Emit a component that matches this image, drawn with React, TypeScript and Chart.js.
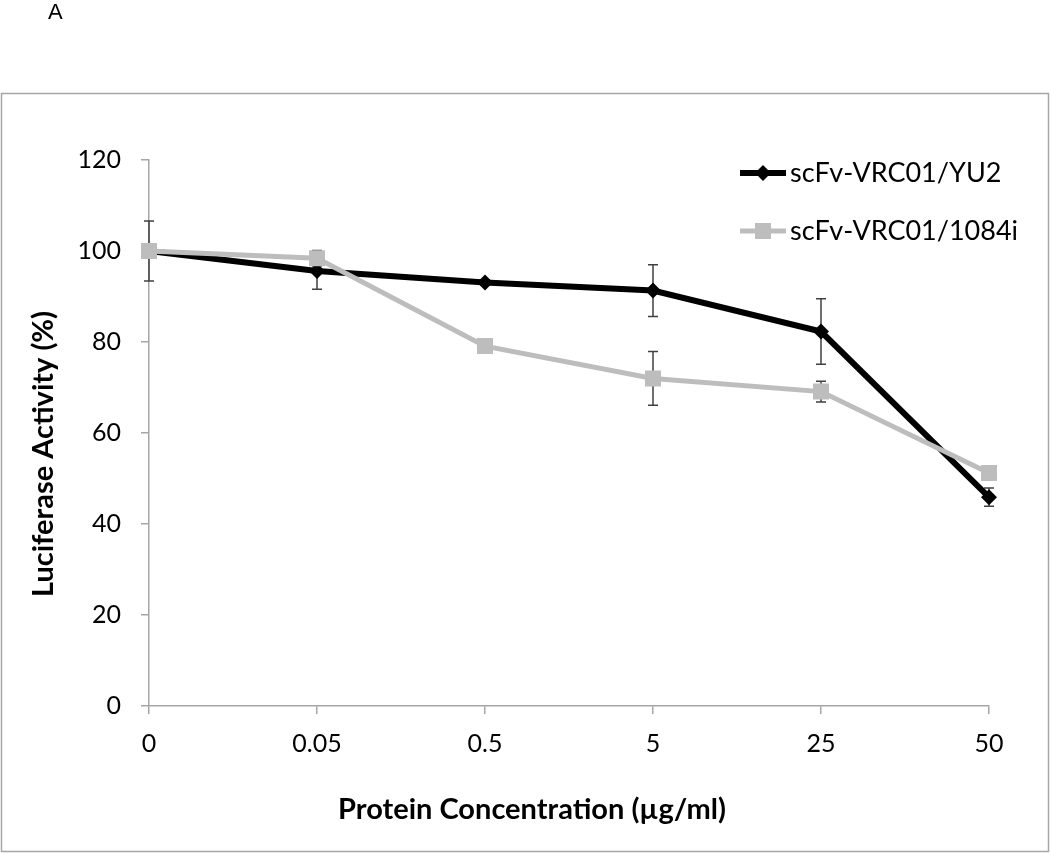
import React, { useEffect, useRef } from "react";
import { Chart, registerables } from "chart.js";

Chart.register(...registerables);

const categories = ["0", "0.05", "0.5", "5", "25", "50"];
const seriesNames = ["scFv-VRC01/YU2", "scFv-VRC01/1084i"];
const yu2Values = [100, 95.6, 93.1, 91.3, 82.3, 45.9];
const yu2Errors = [6.6, 4.0, 0.6, 5.7, 7.2, 2.0];
const i1084Values = [100, 98.4, 79.1, 72.0, 69.1, 51.2];
const i1084Errors = [0, 1.7, 0, 5.9, 2.3, 0];
const yTicks = [0, 20, 40, 60, 80, 100, 120];

const BLACK = "#000000";
const GRAY = "#bdbdbd";
const AXIS = "#a6a6a6";
const FONT = "Lato, 'Open Sans', sans-serif";

const errorBarPlugin = {
  id: "errorBars",
  beforeDatasetsDraw(chart: any) {
    const ctx = chart.ctx;
    const x = chart.scales.x;
    const y = chart.scales.y;
    const sets = [
      { v: yu2Values, e: yu2Errors },
      { v: i1084Values, e: i1084Errors },
    ];
    ctx.save();
    ctx.strokeStyle = "#404040";
    ctx.lineWidth = 1.5;
    sets.forEach((s) => {
      s.v.forEach((val, i) => {
        const err = s.e[i];
        if (!err) return;
        const px = x.getPixelForValue(i);
        const top = y.getPixelForValue(val + err);
        const bot = y.getPixelForValue(val - err);
        ctx.beginPath();
        ctx.moveTo(px, top);
        ctx.lineTo(px, bot);
        ctx.moveTo(px - 5, top);
        ctx.lineTo(px + 5, top);
        ctx.moveTo(px - 5, bot);
        ctx.lineTo(px + 5, bot);
        ctx.stroke();
      });
    });
    ctx.restore();
  },
};

const decorPlugin = {
  id: "decor",
  beforeDraw(chart: any) {
    const ctx = chart.ctx;
    ctx.save();
    ctx.strokeStyle = AXIS;
    ctx.lineWidth = 1.5;
    ctx.strokeRect(1.5, 93.5, chart.width - 3, chart.height - 96);
    ctx.fillStyle = "#000";
    ctx.font = "22px 'Liberation Sans', Arial, sans-serif";
    ctx.textAlign = "left";
    ctx.textBaseline = "alphabetic";
    ctx.fillText("A", 48, 19);
    ctx.restore();
  },
  afterDraw(chart: any) {
    const ctx = chart.ctx;
    const area = chart.chartArea;
    ctx.save();
    ctx.fillStyle = "#000";
    ctx.font = `bold 29px ${FONT}`;
    ctx.textAlign = "center";
    ctx.textBaseline = "middle";
    ctx.fillText("Protein Concentration (µg/ml)", area.left + 383, area.bottom + 104);
    ctx.save();
    ctx.translate(area.left - 105, area.top + 294);
    ctx.rotate(-Math.PI / 2);
    ctx.fillText("Luciferase Activity (%)", 0, 0);
    ctx.restore();

    // legend
    const items = [
      { name: seriesNames[0], color: BLACK, style: "diamond", w: 6 },
      { name: seriesNames[1], color: GRAY, style: "square", w: 5 },
    ];
    const lx = area.right - 249;
    items.forEach((it, i) => {
      const ly = area.top + 13 + i * 58;
      ctx.strokeStyle = it.color;
      ctx.lineWidth = it.w;
      ctx.beginPath();
      ctx.moveTo(lx, ly);
      ctx.lineTo(lx + 46, ly);
      ctx.stroke();
      ctx.fillStyle = it.color;
      const cx = lx + 23;
      if (it.style === "diamond") {
        ctx.beginPath();
        ctx.moveTo(cx - 8, ly);
        ctx.lineTo(cx, ly - 8);
        ctx.lineTo(cx + 8, ly);
        ctx.lineTo(cx, ly + 8);
        ctx.closePath();
        ctx.fill();
      } else {
        ctx.fillRect(cx - 8, ly - 8, 16, 16);
      }
      ctx.fillStyle = "#000";
      ctx.font = `27px ${FONT}`;
      ctx.textAlign = "left";
      ctx.fillText(it.name, lx + 50, ly);
    });
    ctx.restore();
  },
};

export default function App() {
  const ref = useRef<HTMLCanvasElement | null>(null);

  useEffect(() => {
    if (!ref.current) return;
    const chart = new Chart(ref.current, {
      type: "line",
      data: {
        labels: categories,
        datasets: [
          {
            label: seriesNames[0],
            data: yu2Values,
            borderColor: BLACK,
            backgroundColor: BLACK,
            borderWidth: 6,
            pointStyle: "rectRot",
            pointRadius: 8,
            pointBorderWidth: 0,
            pointBackgroundColor: BLACK,
            tension: 0,
            order: 1,
          },
          {
            label: seriesNames[1],
            data: i1084Values,
            borderColor: GRAY,
            backgroundColor: GRAY,
            borderWidth: 5,
            pointStyle: "rect",
            pointRadius: 11.3,
            pointBorderWidth: 0,
            pointBackgroundColor: GRAY,
            tension: 0,
            order: 0,
          },
        ],
      },
      options: {
        responsive: false,
        animation: false,
        layout: { padding: { left: 0, top: 160, right: 61, bottom: 88 } },
        plugins: {
          legend: { display: false },
          tooltip: { enabled: false },
          title: { display: false },
        },
        scales: {
          x: {
            type: "category",
            offset: false,
            grid: { drawOnChartArea: false, drawTicks: true, tickLength: 8, color: AXIS, lineWidth: 1.5 },
            border: { color: AXIS, width: 1.5 },
            ticks: { color: "#000", font: { family: FONT, size: 25 }, padding: 15, maxRotation: 0 },
            afterFit: (s: any) => {
              s.height = 60;
            },
          },
          y: {
            min: 0,
            max: 120,
            afterBuildTicks: (s: any) => {
              s.ticks = yTicks.map((v) => ({ value: v }));
            },
            grid: { drawOnChartArea: false, drawTicks: true, tickLength: 8, color: AXIS, lineWidth: 1.5 },
            border: { color: AXIS, width: 1.5 },
            ticks: { color: "#000", font: { family: FONT, size: 25 }, padding: 20 },
            afterFit: (s: any) => {
              s.width = 149;
            },
          },
        },
      },
      plugins: [errorBarPlugin, decorPlugin],
    });
    return () => chart.destroy();
  }, []);

  return (
    <div style={{ position: "fixed", left: 0, top: 0, width: 1050, height: 854, background: "#fff" }}>
      <canvas ref={ref} width={1050} height={854} style={{ display: "block" }} />
    </div>
  );
}
